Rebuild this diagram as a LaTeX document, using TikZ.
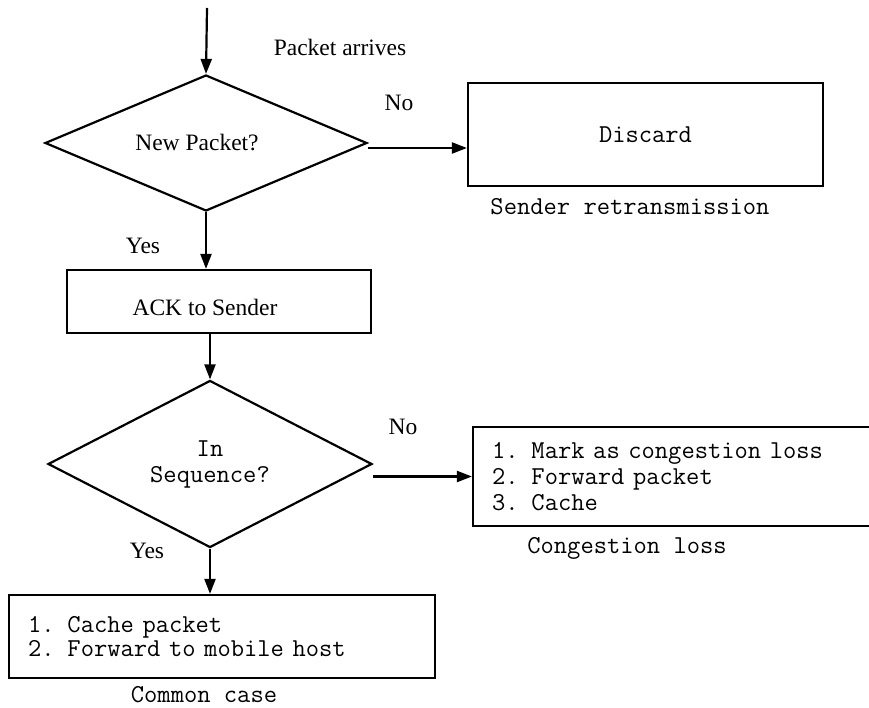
\documentclass[tikz,border=0pt]{standalone}
\usepackage{fontspec}
\setmainfont{Liberation Serif}
\usetikzlibrary{shapes.geometric,arrows.meta}

\begin{document}
\begin{tikzpicture}[x=1pt,y=-1pt,
  line width=2.2pt,
  arr/.style={-{Triangle[length=15pt,width=11pt]}},
  box/.style={draw,rectangle,inner sep=0pt},
  dec/.style={draw,diamond,inner sep=0pt},
  serif/.style={font=\fontsize{23.5}{27}\selectfont},
  mono/.style={font=\fontsize{25.8}{26}\selectfont\ttfamily}]

\useasboundingbox (0,0) rectangle (869,708);
\begin{scope}
\clip (0,0) rectangle (869,708);

% first decision: is the packet new?
\coordinate (start) at (207,8);
\node[dec,serif,minimum width=322pt,minimum height=136pt] (d1) at (206,143) {\hspace*{-18pt}New Packet?};
\draw[arr] (start) -- (d1.north);
\node[serif] (pa) at (340,47) {Packet arrives};

% duplicate packet branch
\node[box,mono,minimum width=355pt,minimum height=103pt] (disc) at (645.5,134.5) {Discard};
\draw[arr] ([yshift=-5pt]d1.east) -- ([yshift=-5pt]d1.east -| disc.west);
\node[serif] (no1) at (399,103) {No};
\node[mono] (sr) at (630,207) {Sender retransmission};

% acknowledge new packet
\node[serif] (yes1) at (143,246) {Yes};
\node[box,serif,minimum width=304pt,minimum height=63pt,text height=33pt,text depth=5pt]
  (ack) at (219,301.5) {\hspace*{-28pt}ACK to Sender};
\draw[arr] (d1.south) -- (d1.south |- ack.north);

% second decision: in sequence?
\node[dec,mono,align=center,minimum width=324pt,minimum height=142pt] (d2) at (210,464) {In\\Sequence?};
\draw[arr] (ack.south -| d2.north) -- (d2.north);

% out-of-sequence branch
\node[serif] (no2) at (403,427) {No};
\node[box,mono,align=left,text width=372pt,inner xsep=19pt,minimum height=99pt] (cong) at (678,476.5)
  {1. Mark as congestion loss\\2. Forward packet\\3. Cache};
\draw[arr] (d2.east |- cong.west) -- (cong.west);
\node[mono] (cl) at (627,548) {Congestion loss};

% in-sequence branch
\node[serif] (yes2) at (147,551) {Yes};
\node[box,align=left,text width=388pt,inner xsep=19pt,minimum height=83pt,
  font=\fontsize{25.8}{24}\selectfont\ttfamily] (cache) at (222,636.5)
  {1. Cache packet\\2. Forward to mobile host};
\draw[arr] (d2.south) -- (d2.south |- cache.north);
\node[mono,inner sep=1pt] (cc) at (204,695) {Common case};

\end{scope}
\end{tikzpicture}
\end{document}
